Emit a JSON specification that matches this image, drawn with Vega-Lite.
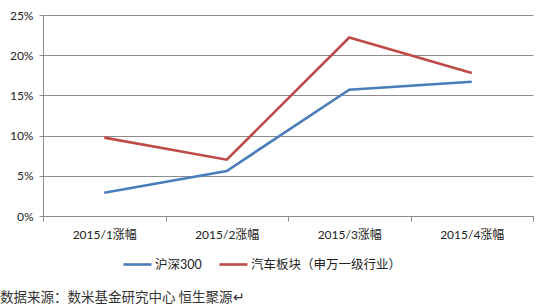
{
  "$schema": "https://vega.github.io/schema/vega-lite/v6.json",
  "width": 490,
  "height": 201,
  "autosize": "none",
  "padding": {"left": 43, "top": 15, "right": 17, "bottom": 92},
  "background": "white",
  "data": {
    "values": [
      {"month": "2015/1涨幅", "series": "沪深300", "value": 0.029},
      {"month": "2015/2涨幅", "series": "沪深300", "value": 0.056},
      {"month": "2015/3涨幅", "series": "沪深300", "value": 0.157},
      {"month": "2015/4涨幅", "series": "沪深300", "value": 0.167},
      {"month": "2015/1涨幅", "series": "汽车板块（申万一级行业）", "value": 0.0975},
      {"month": "2015/2涨幅", "series": "汽车板块（申万一级行业）", "value": 0.070},
      {"month": "2015/3涨幅", "series": "汽车板块（申万一级行业）", "value": 0.222},
      {"month": "2015/4涨幅", "series": "汽车板块（申万一级行业）", "value": 0.178}
    ]
  },
  "title": {
    "text": "数据来源：数米基金研究中心 恒生聚源↵",
    "orient": "bottom",
    "anchor": "start",
    "frame": "group",
    "dx": -43,
    "offset": 20,
    "font": "Noto Sans CJK SC",
    "fontSize": 13.5,
    "fontWeight": "normal",
    "color": "#333333"
  },
  "mark": {"type": "line", "strokeWidth": 2.6},
  "encoding": {
    "x": {
      "field": "month",
      "type": "ordinal",
      "sort": null,
      "scale": {"type": "band", "paddingInner": 0, "paddingOuter": 0},
      "axis": {
        "title": null,
        "labelAngle": 0,
        "tickBand": "extent",
        "grid": false,
        "domainColor": "#8c8c8c",
        "tickColor": "#8c8c8c",
        "tickSize": 5,
        "labelPadding": 8,
        "labelFontSize": 12,
        "labelFont": "Lato, Noto Sans CJK SC",
        "labelColor": "#222222"
      }
    },
    "y": {
      "field": "value",
      "type": "quantitative",
      "scale": {"domain": [0, 0.25], "nice": false},
      "axis": {
        "title": null,
        "format": ".0%",
        "values": [0, 0.05, 0.1, 0.15, 0.2, 0.25],
        "grid": true,
        "gridColor": "#8c8c8c",
        "domainColor": "#8c8c8c",
        "tickColor": "#8c8c8c",
        "tickSize": 4,
        "labelPadding": 6,
        "labelFontSize": 12,
        "labelFont": "Lato, Noto Sans CJK SC",
        "labelColor": "#222222"
      }
    },
    "color": {
      "field": "series",
      "type": "nominal",
      "sort": null,
      "scale": {"range": ["#4a7ebb", "#be4b48"]},
      "legend": {
        "title": null,
        "orient": "none",
        "direction": "horizontal",
        "legendX": 79,
        "legendY": 234,
        "symbolType": "stroke",
        "symbolSize": 784,
        "symbolStrokeWidth": 2.6,
        "labelFontSize": 12.5,
        "labelFont": "Lato, Noto Sans CJK SC",
        "labelColor": "#222222",
        "labelOffset": 2,
        "columnPadding": 12
      }
    }
  },
  "config": {"view": {"stroke": null}}
}
